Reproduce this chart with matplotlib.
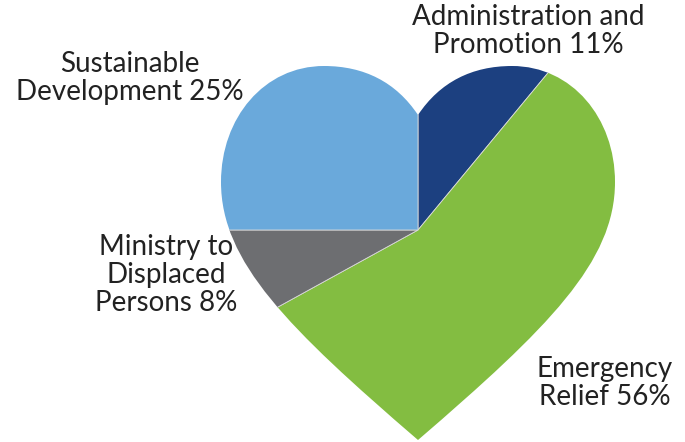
import matplotlib
matplotlib.use("Agg")
import matplotlib.pyplot as plt
from matplotlib.path import Path
from matplotlib.patches import PathPatch

categories = ["Administration and\nPromotion", "Emergency\nRelief",
              "Ministry to\nDisplaced\nPersons", "Sustainable\nDevelopment"]
values = [11, 56, 8, 25]
colors = ["#1C4080", "#83BD41", "#6D6E71", "#6AA9DB"]

W, H = 685, 442
fig = plt.figure(figsize=(W / 100, H / 100), dpi=100)
ax = fig.add_axes([0, 0, 1, 1])

cx, cy = 418, H - 230

def P(x, y):
    return (x, H - y)

verts = [
    P(418, 115),
    P(440, 82), P(472, 66), P(512, 66),
    P(572, 66), P(615, 118), P(615, 182),
    P(615, 262), P(548, 328), P(418, 440),
    P(288, 328), P(221, 262), P(221, 182),
    P(221, 118), P(264, 66), P(324, 66),
    P(364, 66), P(396, 82), P(418, 115),
    P(418, 115),
]
codes = [Path.MOVETO] + [Path.CURVE4] * 18 + [Path.CLOSEPOLY]
heart = PathPatch(Path(verts, codes), facecolor="none", edgecolor="none",
                  transform=ax.transData)
ax.add_patch(heart)

wedges, _ = ax.pie(values, colors=colors, startangle=90, counterclock=False,
                   center=(cx, cy), radius=600,
                   wedgeprops=dict(linewidth=0.6, edgecolor="#d9d9d9"))
for w in wedges:
    w.set_clip_on(True)
    w.set_clip_path(heart)

ax.set_xlim(0, W)
ax.set_ylim(0, H)
ax.set_aspect("equal")
ax.axis("off")

font = dict(family=["Lato", "DejaVu Sans"], fontsize=20, fontweight="normal",
            color="#222222", ha="center", va="center", linespacing=1.1)
labels = [f"{c} {v}%" for c, v in zip(categories, values)]
ax.text(528, H - 31, labels[0], **font)
ax.text(605, H - 383, labels[1], **font)
ax.text(166, H - 275, labels[2], **font)
ax.text(130, H - 78, labels[3], **font)

fig.savefig("out.png", dpi=100)
